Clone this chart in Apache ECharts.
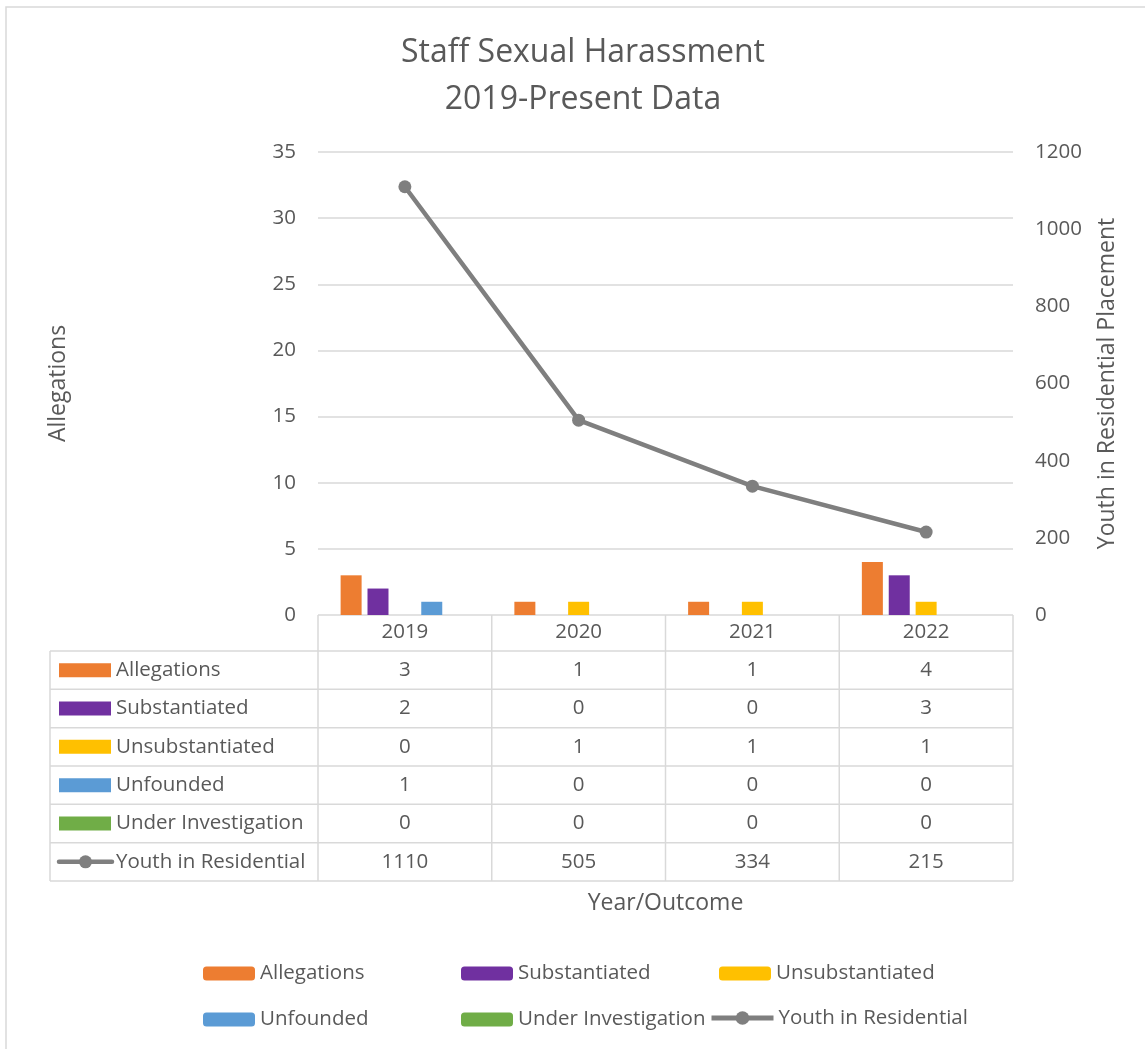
<!DOCTYPE html>
<html>
<head>
<meta charset="utf-8">
<script src="https://cdn.jsdelivr.net/npm/echarts@6/dist/echarts.min.js"></script>
<style>
  html, body { margin: 0; padding: 0; background: #fff; }
  #chart { width: 1145px; height: 1049px; }
</style>
</head>
<body>
<div id="chart"></div>
<script>
// data
const years = ['2019', '2020', '2021', '2022'];
const allegations = [3, 1, 1, 4];
const substantiated = [2, 0, 0, 3];
const unsubstantiated = [0, 1, 1, 1];
const unfounded = [1, 0, 0, 0];
const underInvestigation = [0, 0, 0, 0];
const youthInResidential = [1110, 505, 334, 215];

const barSeries = [
  { name: 'Allegations', data: allegations, color: '#ed7d31' },
  { name: 'Substantiated', data: substantiated, color: '#7030a0' },
  { name: 'Unsubstantiated', data: unsubstantiated, color: '#ffc000' },
  { name: 'Unfounded', data: unfounded, color: '#5b9bd5' },
  { name: 'Under Investigation', data: underInvestigation, color: '#70ad47' },
];
const lineName = 'Youth in Residential';
const lineColor = '#7f7f7f';

const textColor = '#595959';
const gridColor = '#d9d9d9';
const font = 'Open Sans';
const labelSize = 20.5;
const nameSize = 23;

// layout
const plotLeft = 318, plotRight = 1013, plotTop = 152, plotBottom = 615;
const tableLeft = 50, headerBottom = 651, rowH = 38.33;

const chart = echarts.init(document.getElementById('chart'));

function buildTable() {
  const els = [];
  const colW = (plotRight - plotLeft) / years.length;
  const rows = barSeries.map(s => ({ name: s.name, data: s.data, color: s.color, line: false }))
    .concat([{ name: lineName, data: youthInResidential, color: lineColor, line: true }]);
  const lineStyle = { stroke: gridColor, lineWidth: 1.5 };
  const cellFont = labelSize + 'px "' + font + '"';
  // horizontal lines
  for (let i = 0; i <= rows.length; i++) {
    const y = headerBottom + i * rowH;
    els.push({ type: 'line', shape: { x1: tableLeft, y1: y, x2: plotRight, y2: y }, style: lineStyle });
  }
  els.push({ type: 'line', shape: { x1: tableLeft, y1: headerBottom, x2: tableLeft, y2: headerBottom + rows.length * rowH }, style: lineStyle });
  for (let c = 0; c <= years.length; c++) {
    const x = plotLeft + c * colW;
    els.push({ type: 'line', shape: { x1: x, y1: plotBottom, x2: x, y2: headerBottom + rows.length * rowH }, style: lineStyle });
  }
  rows.forEach((r, i) => {
    const cy = headerBottom + i * rowH + rowH / 2;
    if (r.line) {
      els.push({ type: 'line', shape: { x1: 59, y1: cy, x2: 112, y2: cy }, style: { stroke: r.color, lineWidth: 4.5, lineCap: 'round' } });
      els.push({ type: 'circle', shape: { cx: 85.5, cy: cy, r: 6.5 }, style: { fill: r.color } });
    } else {
      els.push({ type: 'rect', shape: { x: 59, y: cy - 7, width: 52, height: 14 }, style: { fill: r.color } });
    }
    els.push({ type: 'text', x: 116, y: cy, style: { text: r.name, font: cellFont, fill: textColor, verticalAlign: 'middle' } });
    r.data.forEach((v, c) => {
      els.push({ type: 'text', x: plotLeft + (c + 0.5) * colW, y: cy, style: { text: String(v), font: cellFont, fill: textColor, align: 'center', verticalAlign: 'middle' } });
    });
  });
  els.push({ type: 'text', x: (plotLeft + plotRight) / 2, y: 903, style: { text: 'Year/Outcome', font: nameSize + 'px "' + font + '"', fill: textColor, align: 'center', verticalAlign: 'middle' } });
  els.push({ type: 'rect', shape: { x: 6, y: 7, width: 1160, height: 1060 }, style: { fill: null, stroke: gridColor, lineWidth: 1.5 }, z: -1 });
  return els;
}

const legendPos = [
  [203, 963], [461, 963], [719, 963],
  [203, 1009], [461, 1009], [709, 1007.5],
];
const legendNames = barSeries.map(s => s.name).concat([lineName]);
const legends = legendNames.map((n, i) => ({
  data: [n],
  left: legendPos[i][0],
  top: legendPos[i][1],
  itemWidth: n === lineName ? 62 : 52,
  itemHeight: n === lineName ? 17 : 14,
  padding: 0,
  lineStyle: { width: 5 },
  textStyle: { color: textColor, fontSize: labelSize, fontFamily: font },
  selectedMode: false,
}));

const option = {
  backgroundColor: '#fff',
  animation: false,
  title: {
    text: 'Staff Sexual Harassment\n2019-Present Data',
    left: 578,
    textAlign: 'center',
    top: 24,
    textStyle: { color: textColor, fontSize: 32, fontWeight: 'normal', fontFamily: font, lineHeight: 47 },
  },
  legend: legends,
  grid: { left: plotLeft, right: 1145 - plotRight, top: plotTop, bottom: 1049 - plotBottom },
  xAxis: {
    type: 'category',
    data: years,
    axisLine: { show: false },
    axisTick: { show: false },
    axisLabel: { color: textColor, fontSize: labelSize, fontFamily: font, margin: 7 },
  },
  yAxis: [
    {
      type: 'value', min: 0, max: 35, interval: 5,
      name: 'Allegations', nameLocation: 'middle', nameGap: 248, nameRotate: 90,
      nameTextStyle: { color: textColor, fontSize: nameSize, fontFamily: font },
      axisLabel: { color: textColor, fontSize: labelSize, fontFamily: font, margin: 22 },
      splitLine: { lineStyle: { color: gridColor, width: 1.5 } },
      axisLine: { show: false }, axisTick: { show: false },
    },
    {
      type: 'value', min: 0, max: 1200, interval: 200, position: 'right',
      name: 'Youth in Residential Placement', nameLocation: 'middle', nameGap: 83, nameRotate: 90,
      nameTextStyle: { color: textColor, fontSize: nameSize, fontFamily: font },
      axisLabel: { color: textColor, fontSize: labelSize, fontFamily: font, margin: 22, formatter: v => String(v) },
      splitLine: { show: false },
      axisLine: { show: false }, axisTick: { show: false },
    },
  ],
  series: barSeries.map(s => ({
    name: s.name,
    type: 'bar',
    data: s.data,
    itemStyle: { color: s.color },
    barWidth: 21,
    barGap: '28%',
  })).concat([{
    name: lineName,
    type: 'line',
    yAxisIndex: 1,
    data: youthInResidential,
    symbol: 'circle',
    symbolSize: 13,
    itemStyle: { color: lineColor },
    lineStyle: { color: lineColor, width: 4.5 },
  }]),
  graphic: buildTable(),
};

chart.setOption(option);
</script>
</body>
</html>
